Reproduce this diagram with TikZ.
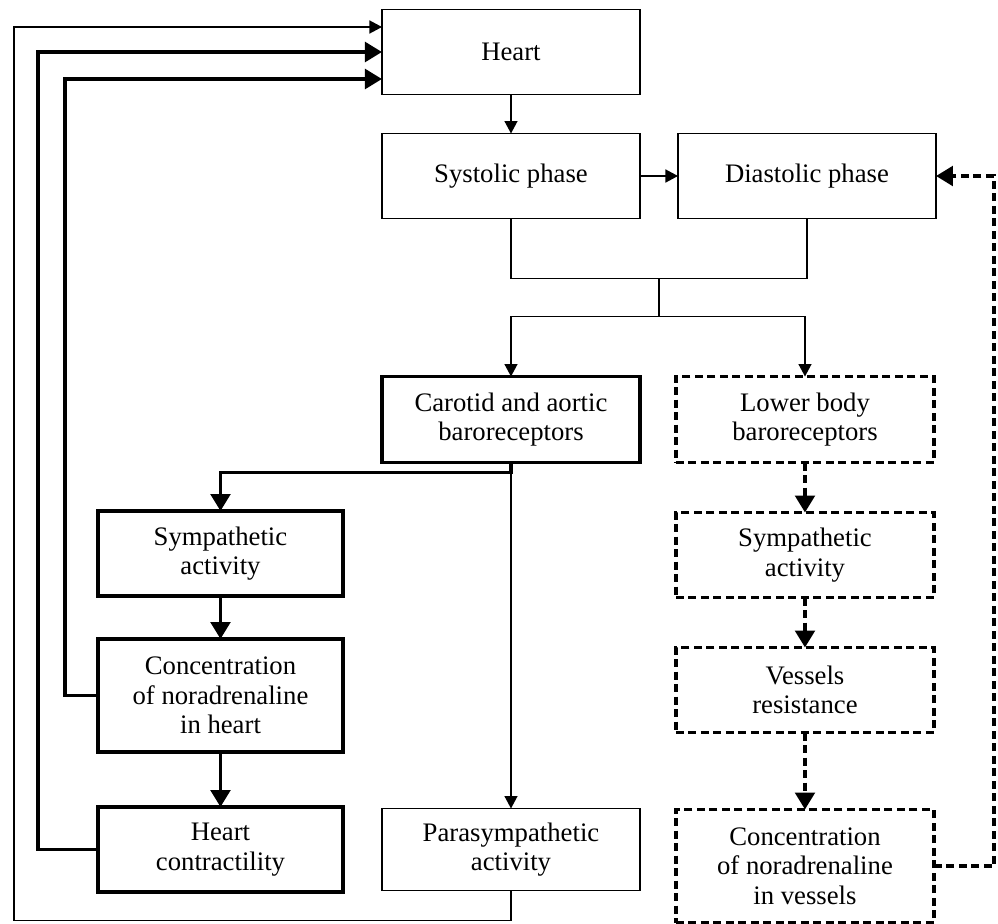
\documentclass[tikz,border=0pt]{standalone}
\usepackage{fontspec}
\setmainfont{Liberation Serif}
\usetikzlibrary{arrows.meta,positioning,calc}

\begin{document}
\begin{tikzpicture}[
  node distance=10mm and 7.6mm,
  every node/.style={font=\fontsize{15.2pt}{16.8pt}\selectfont},
  box/.style={rectangle, draw, line width=0.8pt, align=center, minimum width=51.6mm, minimum height=17mm, inner sep=1pt, outer sep=0pt},
  boldbox/.style={box, line width=2.2pt},
  dashbox/.style={box, line width=2.2pt, dash pattern=on 1.6mm off 0.9mm},
  narrow/.style={minimum width=49mm},
  tall/.style={minimum height=22.6mm},
  line/.style={line width=0.8pt},
  arrow/.style={-{Triangle[length=2.5mm,width=2.6mm]}, line width=0.8pt},
  boldarrow/.style={-{Triangle[length=3.4mm,width=3.9mm]}, line width=2.2pt},
  dasharrow/.style={boldarrow, dash pattern=on 1.6mm off 0.9mm}
]
\useasboundingbox (-102.2mm,10.4mm) rectangle (97.4mm,-174.2mm);

\node[box] (heart) {Heart};
\node[box, below=7.8mm of heart] (systolic) {Systolic phase};
\node[box, right=7.6mm of systolic] (diastolic) {Diastolic phase};

\node[boldbox, minimum height=17.2mm, below=31.6mm of systolic] (carotid) {Carotid and aortic\\baroreceptors};
\node[dashbox, minimum height=17.2mm, right=7.2mm of carotid] (lowerbody) {Lower body\\baroreceptors};

\node[box, minimum height=16.4mm, below=69.2mm of carotid] (parasym) {Parasympathetic\\activity};
\node[boldbox, narrow, left=7.8mm of parasym] (contract) {Heart\\contractility};
\node[boldbox, narrow, tall, above=11mm of contract] (noradheart) {Concentration\\of noradrenaline\\in heart};
\node[boldbox, narrow, above=8.6mm of noradheart] (sympheart) {Sympathetic\\activity};

\node[dashbox, below=of lowerbody] (sympvessel) {Sympathetic\\activity};
\node[dashbox, below=of sympvessel] (resist) {Vessels\\resistance};
\node[dashbox, tall, below=15.4mm of resist] (noradvessel) {Concentration\\of noradrenaline\\in vessels};

% entry points on the heart and the three feedback lanes
\coordinate (inA) at ($(heart.west)+(0,5mm)$);
\coordinate (inB) at (heart.west);
\coordinate (inC) at ($(heart.west)+(0,-5.4mm)$);
\coordinate (laneA) at ($(sympheart.west |- inA)+(-16.8mm,0)$);
\coordinate (laneB) at ($(sympheart.west |- inB)+(-12mm,0)$);
\coordinate (laneC) at ($(sympheart.west |- inC)+(-6.6mm,0)$);

% Arrows
\draw[arrow] (heart) -- (systolic);
\draw[arrow] (systolic) -- (diastolic);

\draw[line] (systolic.south) -- ++(0,-12mm) -| (diastolic.south);
\coordinate (join) at ($(systolic.south)!0.5!(diastolic.south)+(0,-12mm)$);
\draw[arrow] (join) -- ++(0,-7.6mm) -| (carotid.north);
\draw[arrow] (join) -- ++(0,-7.6mm) -| (lowerbody.north);

\draw[boldarrow] (carotid.south) -- ++(0,-2mm) -| (sympheart.north);
\draw[arrow] (carotid.south) -- (parasym.north);

\draw[boldarrow] (sympheart) -- (noradheart);
\draw[boldarrow] (noradheart) -- (contract);

\draw[dasharrow] (lowerbody) -- (sympvessel);
\draw[dasharrow] (sympvessel) -- (resist);
\draw[dasharrow] (resist) -- (noradvessel);

% feedback loops
\draw[dasharrow] (noradvessel.east) -- ++(12mm,0) |- (diastolic.east);
\draw[arrow] (parasym.south) -- ++(0,-6mm) -| (laneA) -- (inA);
\draw[boldarrow] (contract.west) -| (laneB) -- (inB);
\draw[boldarrow] (noradheart.west) -| (laneC) -- (inC);

\end{tikzpicture}
\end{document}
